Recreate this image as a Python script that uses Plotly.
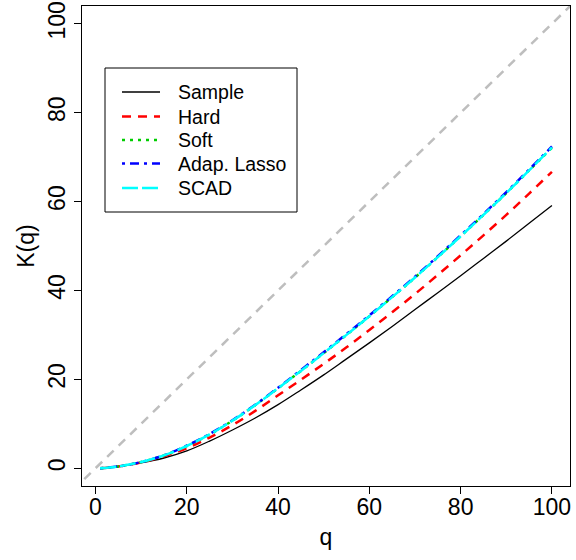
import plotly.graph_objects as go

q = [1, 5, 10, 15, 20, 25, 30, 35, 40, 45, 50, 55, 60, 65, 70, 75, 80, 85, 90, 95, 100]
k_sample = [0.0, 0.4, 1.2, 2.3, 3.9, 6.1, 8.6, 11.3, 14.3, 17.6, 21.0, 24.6, 28.2, 31.9, 35.7, 39.5, 43.3, 47.2, 51.1, 55.1, 59.1]
k_hard = [0.0, 0.4, 1.3, 2.7, 4.5, 6.9, 9.7, 12.9, 16.4, 19.9, 23.5, 27.2, 31.1, 35.1, 39.2, 43.5, 47.9, 52.4, 57.0, 61.8, 66.7]
k_soft = [0.0, 0.4, 1.4, 2.9, 5.0, 7.6, 10.7, 14.2, 18.0, 21.9, 25.9, 30.0, 34.2, 38.5, 42.9, 47.5, 52.2, 57.0, 61.9, 67.0, 72.1]
k_adap = [0.0, 0.4, 1.4, 2.9, 5.1, 7.7, 10.8, 14.3, 18.1, 22.1, 26.1, 30.2, 34.4, 38.7, 43.1, 47.7, 52.4, 57.2, 62.1, 67.2, 72.4]
k_scad = [0.0, 0.4, 1.4, 2.9, 5.0, 7.6, 10.7, 14.2, 18.0, 21.9, 25.9, 30.0, 34.2, 38.5, 42.9, 47.5, 52.2, 57.0, 61.9, 67.0, 72.2]
diag = [-10, 110]
ticks = [0, 20, 40, 60, 80, 100]
legend_labels = ["Sample", "Hard", "Soft", "Adap. Lasso", "SCAD"]

FONT = "Liberation Sans, Arial, sans-serif"
W, H = 576, 560
L, R, T, B = 82, 6, 6, 74
PW, PH = W - L - R, H - T - B


def px_x(p):
    return (p - L) / PW


def px_y(p):
    return (H - B - p) / PH


fig = go.Figure()
fig.add_trace(go.Scatter(x=diag, y=diag, mode="lines", showlegend=False, hoverinfo="skip",
                         line=dict(color="#BEBEBE", width=2.5, dash="9px,7px")))
styles = [
    ("#000000", 1.3, "solid"),
    ("#FF0000", 2.5, "9px,7px"),
    ("#00CD00", 2.5, "3px,5px"),
    ("#0000FF", 2.5, "3px,5px,9px,5px"),
    ("#00FFFF", 2.5, "16px,4px"),
]
all_series = [k_sample, k_hard, k_soft, k_adap, k_scad]
for name, ys, (col, w, d) in zip(legend_labels, all_series, styles):
    fig.add_trace(go.Scatter(x=q, y=ys, mode="lines", name=name, line_shape="spline",
                             showlegend=False, line=dict(color=col, width=w, dash=d)))

# legend box drawn by hand (R style)
fig.add_shape(type="rect", xref="paper", yref="paper",
              x0=px_x(105), x1=px_x(297), y0=px_y(212), y1=px_y(68),
              line=dict(color="black", width=1), fillcolor="rgba(0,0,0,0)")
row_y = [92, 116.5, 140, 163.5, 188]
for i, (label, (col, w, d)) in enumerate(zip(legend_labels, styles)):
    yy = px_y(row_y[i])
    fig.add_shape(type="line", xref="paper", yref="paper",
                  x0=px_x(122), x1=px_x(160), y0=yy, y1=yy,
                  line=dict(color=col, width=w if i else 1.6, dash=d))
    fig.add_annotation(x=px_x(176), y=yy, xref="paper", yref="paper", text=label,
                       showarrow=False, xanchor="left", yanchor="middle",
                       font=dict(family=FONT, size=19.5, color="black"))

axis_common = dict(
    tickvals=ticks, ticktext=[str(t) for t in ticks],
    showgrid=False, zeroline=False, showline=True, mirror=True,
    linecolor="black", linewidth=1, ticks="outside", ticklen=7, tickwidth=1,
    tickcolor="black", tickfont=dict(family=FONT, size=23, color="black"),
)
fig.update_xaxes(range=[-2.96, 103.96], ticklabelstandoff=-7,
                 title=dict(text="q", font=dict(family=FONT, size=23, color="black"), standoff=10),
                 **axis_common)
fig.update_yaxes(range=[-4, 104], tickangle=-90,
                 title=dict(text="K(q)", font=dict(family=FONT, size=23, color="black"), standoff=2),
                 **axis_common)

fig.update_layout(
    width=W, height=H,
    margin=dict(l=L, r=R, t=T, b=B, autoexpand=False),
    plot_bgcolor="white", paper_bgcolor="white",
    font=dict(family=FONT, color="black"),
    showlegend=False,
)
fig.write_html("out.html", config={"displayModeBar": False},
               post_script="document.body.style.margin='0';document.body.style.padding='0';")
